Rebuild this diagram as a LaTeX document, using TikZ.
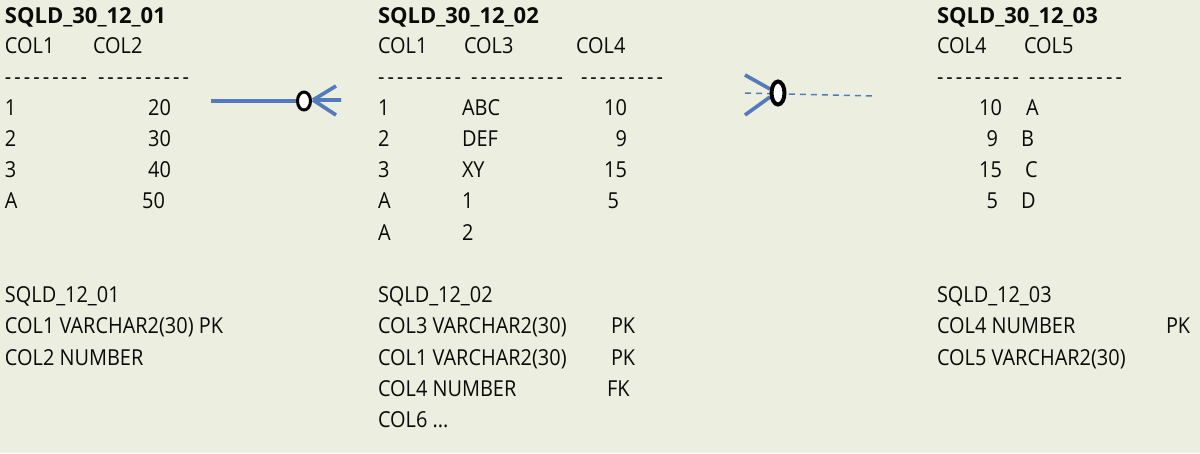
\documentclass[tikz,border=0pt]{standalone}
\usepackage{fontspec}
\setmainfont{Open Sans}[Ligatures=TeXOff,FakeStretch=0.905]
\newfontfamily\ttlfont{Open Sans}[Ligatures=TeXOff,FakeStretch=1.0]
\definecolor{bg}{RGB}{236,239,224}
\definecolor{ln}{RGB}{84,122,190}
\definecolor{txt}{RGB}{10,10,10}
\newcommand\dg{-\hfill}
\newcommand\dashnine[1]{\hbox to #1pt{\dg\dg\dg\dg\dg\dg\dg\dg-}}
\newcommand\dashten[1]{\hbox to #1pt{\dg\dg\dg\dg\dg\dg\dg\dg\dg-}}
\begin{document}
\begin{tikzpicture}[x=1pt,y=-1pt,
  t/.style={anchor=base west,inner sep=0pt,outer sep=0pt,text=txt,font=\fontsize{22}{26}\selectfont},
  tr/.style={t,anchor=base east},
  tb/.style={t,font=\fontsize{22}{26}\ttlfont\bfseries},
  rel/.style={draw=ln,line width=3.6pt},
  relshadow/.style={draw=black!35,opacity=0.35,line width=3.6pt},
  reldash/.style={draw=ln,line width=1.5pt,dash pattern=on 6pt off 5pt},
  ring/.style={draw=black,fill=white}]
\fill[bg] (0,0) rectangle (1200,453);
\useasboundingbox (0,0) rectangle (1200,453);

% ---------- table SQLD_30_12_01 ----------
\node[tb] (a0) at (5,23) {SQLD\_30\_12\_01};
\node[t] (ah1) at (5,53) {COL1};
\node[t] (ah2) at (93,53) {COL2};
\node[t] (ad1) at (5,84) {\dashnine{82}};
\node[t] (ad2) at (98,84) {\dashten{91}};
\node[t] (a11) at (5,115) {1};   \node[tr] (a12) at (171,115) {20};
\node[t] (a21) at (5,146) {2};   \node[tr] (a22) at (171,146) {30};
\node[t] (a31) at (5,177) {3};   \node[tr] (a32) at (171,177) {40};
\node[t] (a41) at (5,208) {A};   \node[tr] (a42) at (165,208) {50};

% ---------- table SQLD_30_12_02 ----------
\node[tb] (b0) at (378,23) {SQLD\_30\_12\_02};
\node[t] (bh1) at (378,53) {COL1};
\node[t] (bh3) at (464,53) {COL3};
\node[t] (bh4) at (576,53) {COL4};
\node[t] (bd1) at (378,84) {\dashnine{83}};
\node[t] (bd2) at (471,84) {\dashten{92}};
\node[t] (bd3) at (581,84) {\dashnine{82}};
\node[t] (b11) at (378,115) {1}; \node[t] (b12) at (462,115) {ABC}; \node[tr] (b13) at (627,115) {10};
\node[t] (b21) at (378,146) {2}; \node[t] (b22) at (462,146) {DEF}; \node[tr] (b23) at (627,146) {9};
\node[t] (b31) at (378,177) {3}; \node[t] (b32) at (462,177) {XY};  \node[tr] (b33) at (627,177) {15};
\node[t] (b41) at (378,208) {A}; \node[t] (b42) at (462,208) {1};   \node[tr] (b43) at (619,208) {5};
\node[t] (b51) at (378,240) {A}; \node[t] (b52) at (462,240) {2};

% ---------- table SQLD_30_12_03 ----------
\node[tb] (c0) at (937,23) {SQLD\_30\_12\_03};
\node[t] (ch4) at (937,53) {COL4};
\node[t] (ch5) at (1024,53) {COL5};
\node[t] (cd1) at (937,84) {\dashnine{82}};
\node[t] (cd2) at (1029,84) {\dashten{93}};
\node[tr] (c11) at (1002,115) {10}; \node[t] (c12) at (1026,115) {A};
\node[tr] (c21) at (998,146) {9};   \node[t] (c22) at (1021,146) {B};
\node[tr] (c31) at (1002,177) {15}; \node[t] (c32) at (1025,177) {C};
\node[tr] (c41) at (998,208) {5};   \node[t] (c42) at (1021,208) {D};

% ---------- definitions ----------
\node[t] (s1) at (5,302) {SQLD\_12\_01};
\node[t] (s1a) at (5,333) {COL1 VARCHAR2(30) PK};
\node[t] (s1b) at (5,365) {COL2 NUMBER};

\node[t] (s2) at (378,302) {SQLD\_12\_02};
\node[t] (s2a) at (378,333) {COL3 VARCHAR2(30)}; \node[t] (s2ak) at (611,333) {PK};
\node[t] (s2b) at (378,365) {COL1 VARCHAR2(30)}; \node[t] (s2bk) at (611,365) {PK};
\node[t] (s2c) at (378,396) {COL4 NUMBER};       \node[t] (s2ck) at (607,396) {FK};
\node[t] (s2d) at (378,427) {COL6 ...};

\node[t] (s3) at (937,302) {SQLD\_12\_03};
\node[t] (s3a) at (937,333) {COL4 NUMBER}; \node[t] (s3ak) at (1166,333) {PK};
\node[t] (s3b) at (937,365) {COL5 VARCHAR2(30)};

% ---------- relationship 1 (solid, crow's foot toward SQLD_30_12_02) ----------
\coordinate (r1s) at (211,101);
\coordinate (r1o) at (304,101);
\coordinate (r1f) at (313,100);
\coordinate (r1u) at (336,86);
\coordinate (r1m) at (341,100);
\coordinate (r1d) at (336,115);
\begin{scope}[shift={(1.5,2)}]
  \draw[relshadow] (r1s) -- (r1o);
  \draw[relshadow] (r1f) -- (r1u) (r1f) -- (r1m) (r1f) -- (r1d);
\end{scope}
\draw[rel] (r1s) -- (r1o);
\draw[rel] (r1f) -- (r1u) (r1f) -- (r1m) (r1f) -- (r1d);
\draw[ring,line width=3pt] (r1o) ellipse [x radius=6.5pt, y radius=9pt];

% ---------- relationship 2 (dashed, crow's foot toward SQLD_30_12_02) ----------
\coordinate (r2s) at (745,93);
\coordinate (r2e) at (873,96);
\coordinate (r2o) at (778,93);
\coordinate (r2u) at (745,75);
\coordinate (r2d) at (745,115);
\coordinate (r2fu) at (770,89);
\coordinate (r2fd) at (770,97);
\draw[reldash] (r2s) -- (r2e);
\begin{scope}[shift={(1.5,2)}]
  \draw[relshadow] (r2u) -- (r2fu) (r2d) -- (r2fd);
\end{scope}
\draw[rel] (r2u) -- (r2fu) (r2d) -- (r2fd);
\draw[ring,line width=4pt] (r2o) ellipse [x radius=6.5pt, y radius=11.5pt];
\end{tikzpicture}
\end{document}
